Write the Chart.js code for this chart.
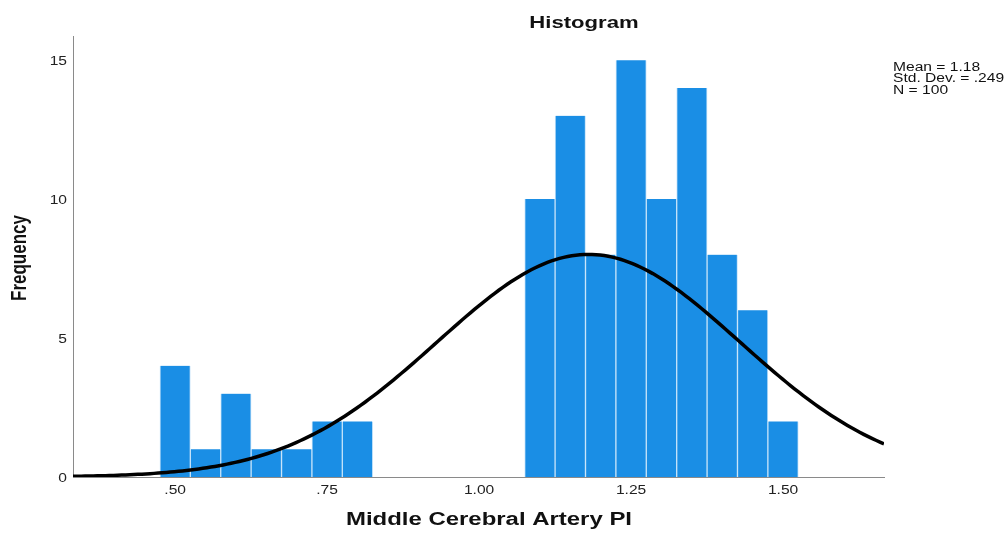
<!DOCTYPE html>
<html>
<head>
<meta charset="utf-8">
<script src="https://cdn.jsdelivr.net/npm/chart.js@4.4.1/dist/chart.umd.min.js"></script>
<style>
  html, body { margin: 0; padding: 0; background: #fff; }
  #wrap { width: 1006px; height: 535px; position: relative; }
</style>
</head>
<body>
<div id="wrap"><canvas id="c" width="1006" height="535"></canvas></div>
<script>
// Bin centres (Middle Cerebral Artery PI) and their counts
const binCenters = [0.50, 0.55, 0.60, 0.65, 0.70, 0.75, 0.80, 0.85, 0.90, 0.95, 1.00, 1.05,
                    1.10, 1.15, 1.20, 1.25, 1.30, 1.35, 1.40, 1.45, 1.50];
const binCounts  = [4, 1, 3, 1, 1, 2, 2, 0, 0, 0, 0, 0,
                    10, 13, 8, 15, 10, 14, 8, 6, 2];
const binWidth = 0.05;

// Summary statistics shown in the legend box
const statMean = 1.18;
const statSD = 0.249;
const statN = 100;
const statLines = ['Mean = 1.18', 'Std. Dev. = .249', 'N = 100'];

// Axis ticks
const xTickValues = [0.50, 0.75, 1.00, 1.25, 1.50];
const xTickLabels = ['.50', '.75', '1.00', '1.25', '1.50'];
const yTickValues = [0, 5, 10, 15];
const yTickLabels = ['0', '5', '10', '15'];

const xMin = 0.332, xMax = 1.666;

// Fitted normal curve, scaled to frequency per bin
const curvePoints = [];
for (let i = 0; i <= 200; i++) {
  const x = xMin + (xMax - xMin) * i / 200;
  const z = (x - statMean) / statSD;
  const y = statN * binWidth / (statSD * Math.sqrt(2 * Math.PI)) * Math.exp(-0.5 * z * z);
  curvePoints.push({ x: x, y: y });
}

const FONT = '"Liberation Sans", Arial, sans-serif';
const WIDEN = 1.3; // horizontal widening applied to all lettering

function drawText(ctx, s, x, y, font, align, sx) {
  ctx.save();
  ctx.font = font;
  ctx.textAlign = align;
  ctx.translate(x, y);
  ctx.scale(sx, 1);
  ctx.fillText(s, 0, 0);
  ctx.restore();
}

const textPlugin = {
  id: 'texts',
  afterDraw(chart) {
    const ctx = chart.ctx;
    const xs = chart.scales.x, ys = chart.scales.y;
    ctx.save();
    ctx.textBaseline = 'alphabetic';

    // Tick labels
    ctx.fillStyle = '#222';
    xTickValues.forEach((v, i) =>
      drawText(ctx, xTickLabels[i], xs.getPixelForValue(v), 494, '12px ' + FONT, 'center', WIDEN));
    yTickValues.forEach((v, i) =>
      drawText(ctx, yTickLabels[i], 67, ys.getPixelForValue(v) + 4.5, '12px ' + FONT, 'right', WIDEN));

    // Title and axis titles
    ctx.fillStyle = '#111';
    drawText(ctx, 'Histogram', 584, 28, 'bold 17px ' + FONT, 'center', WIDEN);
    drawText(ctx, 'Middle Cerebral Artery PI', 489, 525, 'bold 18px ' + FONT, 'center', 1.33);

    ctx.save();
    ctx.font = 'bold 17px ' + FONT;
    ctx.textAlign = 'center';
    ctx.textBaseline = 'middle';
    ctx.translate(20, 258);
    ctx.scale(WIDEN, 1);
    ctx.rotate(-Math.PI / 2);
    ctx.fillText('Frequency', 0, 0);
    ctx.restore();

    // Statistics box
    ctx.fillStyle = '#111';
    statLines.forEach((s, i) =>
      drawText(ctx, s, 893, 70.5 + i * 11.5, '12px ' + FONT, 'left', WIDEN));
    ctx.restore();
  }
};

new Chart(document.getElementById('c'), {
  type: 'bar',
  data: {
    datasets: [
      {
        type: 'line',
        data: curvePoints,
        borderColor: '#000',
        borderWidth: 3.5,
        pointRadius: 0,
        tension: 0,
        order: 0
      },
      {
        type: 'bar',
        data: binCenters.map((c, i) => ({ x: c, y: binCounts[i] })),
        backgroundColor: '#1a8ee5',
        borderColor: '#c4e2f9',
        borderWidth: { left: 1, right: 1, top: 0, bottom: 0 },
        borderSkipped: false,
        barPercentage: 1,
        categoryPercentage: 1,
        order: 1
      }
    ]
  },
  options: {
    responsive: false,
    animation: false,
    devicePixelRatio: 1,
    layout: { padding: { top: 36, right: 122, left: 0, bottom: 0 } },
    plugins: {
      legend: { display: false },
      tooltip: { enabled: false },
      title: { display: false }
    },
    scales: {
      x: {
        type: 'linear',
        min: xMin,
        max: xMax,
        offset: false,
        grid: { display: false, drawTicks: false, offset: false },
        border: { display: true, color: '#8a8a8a', width: 1 },
        afterBuildTicks(scale) {
          scale.ticks = xTickValues.map(v => ({ value: v }));
        },
        afterFit(scale) { scale.height = 58; },
        ticks: { display: false }
      },
      y: {
        min: 0,
        max: 15.87,
        grid: { display: false, drawTicks: false },
        border: { display: true, color: '#8a8a8a', width: 1 },
        afterBuildTicks(scale) {
          scale.ticks = yTickValues.map(v => ({ value: v }));
        },
        afterFit(scale) { scale.width = 73; },
        ticks: { display: false }
      }
    }
  },
  plugins: [textPlugin]
});
</script>
</body>
</html>
